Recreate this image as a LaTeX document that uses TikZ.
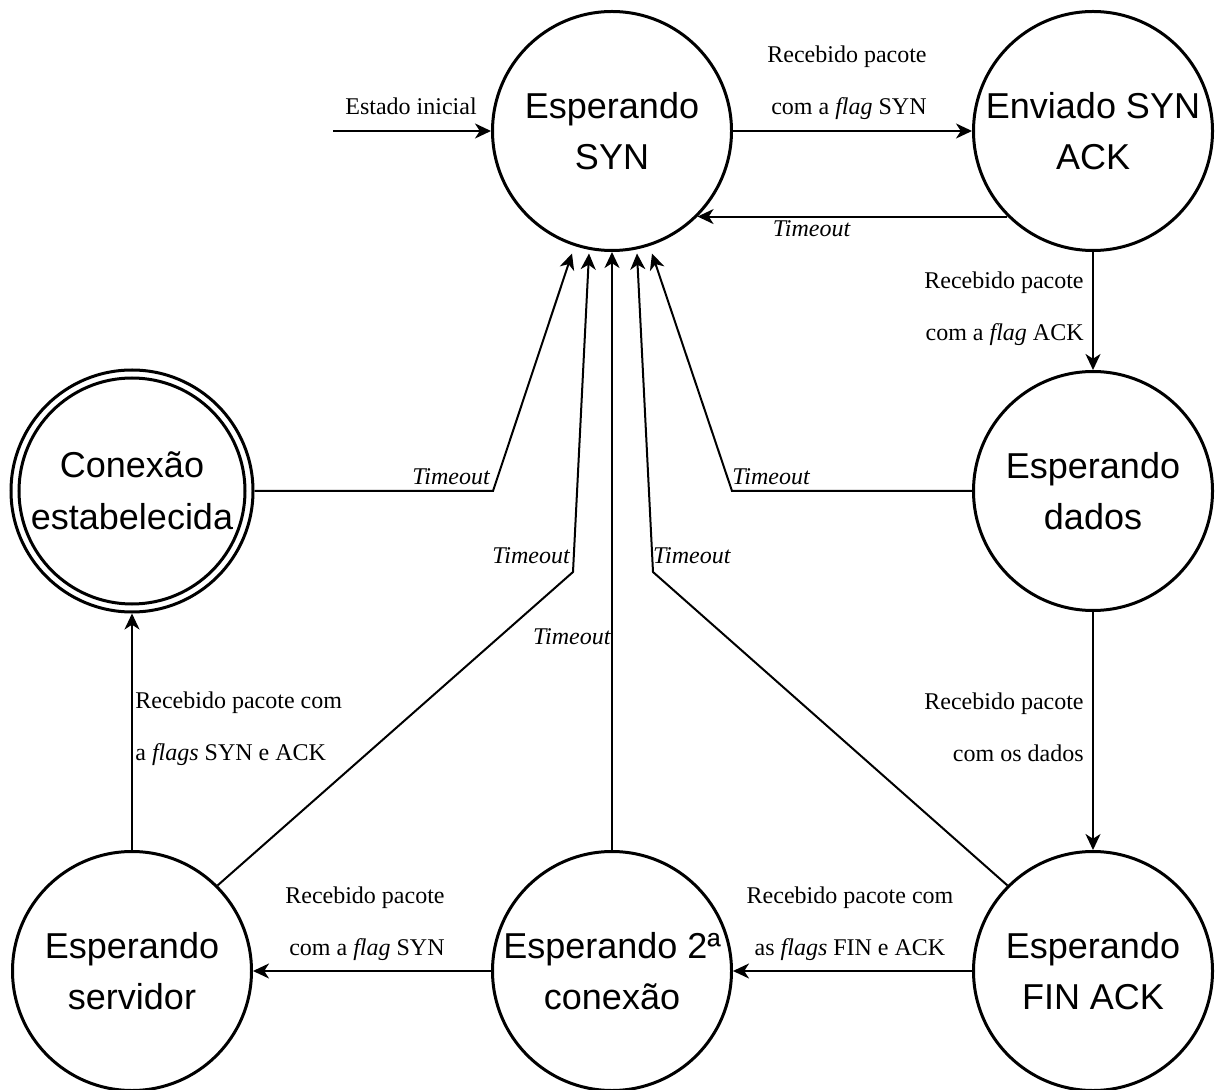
\documentclass[tikz,border=0pt]{standalone}
\usepackage{fontspec}
\setmainfont{Liberation Serif}
\newfontfamily\statefamily{Liberation Sans}
\usetikzlibrary{arrows.meta,calc}
\begin{document}
\begin{tikzpicture}[x=0.5pt,y=-0.5pt,
  state/.style={circle,draw,line width=1.5pt,minimum size=119.5pt,inner sep=0pt,
    align=center,font=\statefamily\fontsize{18}{25.8}\selectfont},
  trans/.style={line width=1pt,-{Stealth[length=8pt,width=7.5pt,inset=2.4pt]}},
  lbl/.style={inner sep=0pt,font=\fontsize{12}{26}\selectfont},
  tmo/.style={inner sep=0pt,anchor=base west,font=\fontsize{12}{14}\selectfont\itshape}]
\useasboundingbox (0,0) rectangle (1215,1090);

% states
\node[state] (syn)    at (612,131)  {Esperando\\SYN};
\node[state] (synack) at (1093,131) {Enviado SYN\\ACK};
\node[state] (dados)  at (1093,491) {Esperando\\dados};
\node[state] (finack) at (1093,971) {Esperando\\FIN ACK};
\node[state] (seg)    at (612,971)  {Esperando 2ª\\conexão};
\node[state] (serv)   at (132,971)  {Esperando\\servidor};
\node[state,minimum size=121pt] (conex) at (132,491) {Conexão\\estabelecida};
\draw[line width=1.5pt] (conex.center) circle[radius=56.5pt];

% initial transition
\coordinate (init) at (333,131);
\draw[trans] (init) -- (syn.west);
\node[lbl,anchor=base] (linit) at (411,115) {Estado inicial};

% handshake
\draw[trans] (syn.east) -- (synack.west);
\node[lbl,anchor=east,align=right] (l1) at (927,83) {Recebido pacote\\com a \textit{flag} SYN};
\draw[trans] (synack.-135) -- (syn.-45);
\node[tmo] (t1) at (772.5,236.7) {Timeout};
\draw[trans] (synack.south) -- (dados.north);
\node[lbl,anchor=east,align=right] (l2) at (1084,308.5) {Recebido pacote\\com a \textit{flag} ACK};
\draw[trans] (dados.south) -- (finack.north);
\node[lbl,anchor=east,align=right] (l3) at (1084,727) {Recebido pacote\\com os dados};
\draw[trans] (finack.west) -- (seg.east);
\node[lbl,anchor=center,align=center] (l4) at (850,923.3) {Recebido pacote com\\as \textit{flags} FIN e ACK};
\draw[trans] (seg.west) -- (serv.east);
\node[lbl,anchor=east,align=right] (l5) at (445,923.3) {Recebido pacote\\com a \textit{flag} SYN};
\draw[trans] (serv.north) -- (conex.south);
\node[lbl,anchor=west,align=left] (l6) at (135,728.8) {Recebido pacote com\\a \textit{flags} SYN e ACK};

% timeouts back to the initial state
\coordinate (kC) at (493,491);
\coordinate (kD) at (732,491);
\coordinate (kS) at (573,572);
\coordinate (kF) at (653,572);
\draw[trans] (conex.east) -- (kC) -- ($(syn.south)+(-40,1.5)$);
\node[tmo] (t2) at (412,485) {Timeout};
\draw[trans] (dados.west) -- (kD) -- ($(syn.south)+(40,1.5)$);
\node[tmo] (t3) at (732,485) {Timeout};
\draw[trans] (serv.45) -- (kS) -- ($(syn.south)+(-23,1.5)$);
\node[tmo] (t4) at (492,564) {Timeout};
\draw[trans] (finack.135) -- (kF) -- ($(syn.south)+(25,1.5)$);
\node[tmo] (t5) at (652.7,564) {Timeout};
\draw[trans] (seg.north) -- (syn.south);
\node[tmo] (t6) at (532.7,644) {Timeout};
\end{tikzpicture}
\end{document}
